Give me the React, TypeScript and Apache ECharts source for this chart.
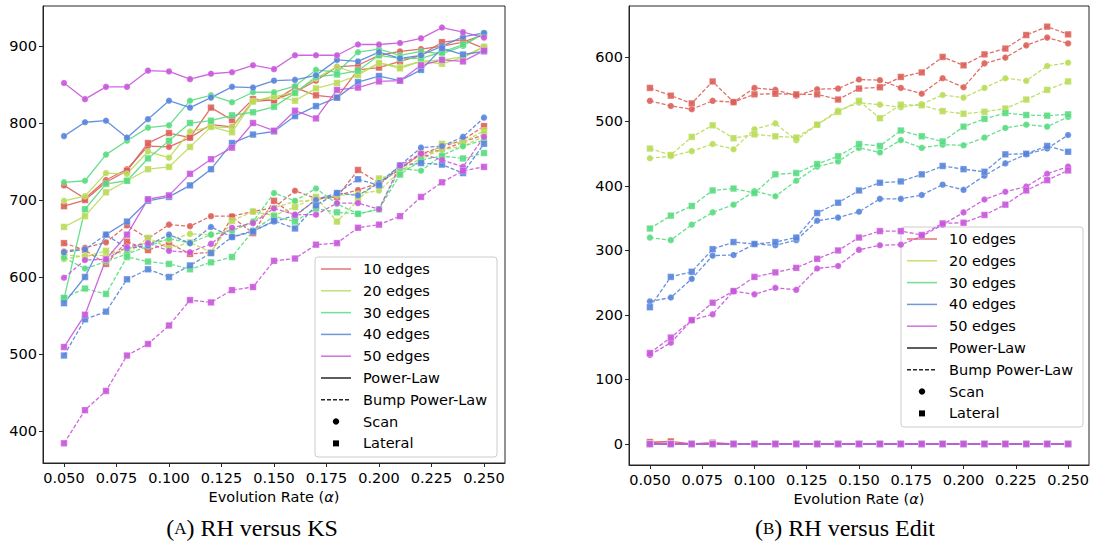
import React, { useEffect, useRef } from "react";
import * as echarts from "echarts";

// Evolution rates on the x axis
const alphas = [0.05, 0.06, 0.07, 0.08, 0.09, 0.1, 0.11, 0.12, 0.13, 0.14, 0.15, 0.16, 0.17, 0.18, 0.19, 0.2, 0.21, 0.22, 0.23, 0.24, 0.25];
const alphaTicks = [0.05, 0.075, 0.1, 0.125, 0.15, 0.175, 0.2, 0.225, 0.25];
const ksTicks = [400, 500, 600, 700, 800, 900];
const editTicks = [0, 100, 200, 300, 400, 500, 600];

const edgeLabels = ["10 edges", "20 edges", "30 edges", "40 edges", "50 edges"];
const distLabels = ["Power-Law", "Bump Power-Law"];
const methodLabels = ["Scan", "Lateral"];
const captions = ["A) RH versus KS", "B) RH versus Edit"];

// RH versus KS — one row per edge count (10..50)
const ksPowerLawScan = [
  [719, 702, 726, 740, 770, 769, 781, 798, 795, 828, 830, 840, 855, 873, 875, 888, 893, 896, 900, 905, 915],
  [699, 705, 735, 734, 763, 755, 789, 795, 794, 828, 834, 840, 858, 873, 864, 878, 873, 880, 882, 886, 899],
  [723, 725, 759, 777, 794, 797, 829, 836, 827, 840, 840, 848, 869, 866, 892, 896, 888, 893, 890, 900, 917],
  [783, 801, 803, 781, 805, 829, 820, 833, 847, 846, 855, 856, 862, 882, 880, 892, 884, 888, 900, 912, 917],
  [852, 831, 847, 847, 868, 867, 857, 864, 866, 875, 870, 888, 888, 888, 902, 902, 904, 910, 924, 918, 911],
];
const ksPowerLawLateral = [
  [692, 700, 723, 738, 774, 787, 781, 820, 804, 831, 829, 846, 836, 833, 869, 872, 880, 888, 905, 908, 897],
  [665, 679, 710, 725, 740, 743, 769, 795, 788, 828, 835, 829, 845, 852, 862, 878, 871, 880, 877, 885, 899],
  [572, 688, 721, 725, 754, 777, 800, 803, 810, 814, 821, 839, 860, 863, 868, 888, 884, 884, 892, 902, 916],
  [566, 600, 655, 672, 699, 704, 719, 740, 774, 785, 789, 809, 822, 833, 853, 861, 855, 869, 897, 889, 893],
  [509, 551, 623, 655, 701, 706, 734, 753, 768, 800, 790, 816, 806, 843, 846, 854, 855, 875, 882, 880, 894],
];
const ksBumpScan = [
  [633, 638, 645, 667, 650, 668, 666, 679, 679, 685, 690, 712, 702, 706, 713, 722, 740, 760, 765, 775, 785],
  [623, 628, 628, 636, 645, 648, 656, 655, 660, 672, 690, 698, 700, 706, 708, 712, 737, 755, 765, 770, 783],
  [625, 611, 620, 630, 640, 650, 644, 655, 660, 672, 709, 699, 715, 695, 682, 688, 741, 738, 758, 770, 778],
  [632, 636, 655, 637, 641, 655, 644, 665, 652, 660, 672, 680, 700, 709, 706, 722, 745, 768, 770, 782, 807],
  [599, 622, 623, 639, 644, 634, 632, 643, 664, 670, 689, 681, 681, 696, 696, 688, 745, 760, 752, 743, 782],
];
const ksBumpLateral = [
  [644, 635, 617, 646, 635, 644, 630, 632, 678, 657, 699, 679, 701, 704, 739, 722, 741, 760, 769, 778, 796],
  [629, 626, 634, 630, 651, 637, 645, 632, 673, 685, 680, 691, 704, 672, 700, 728, 735, 750, 773, 775, 790],
  [573, 585, 578, 626, 620, 617, 610, 619, 626, 660, 679, 672, 689, 684, 682, 688, 733, 752, 757, 754, 761],
  [498, 545, 555, 597, 610, 600, 615, 631, 652, 659, 673, 663, 693, 709, 727, 719, 745, 748, 746, 735, 773],
  [384, 427, 452, 498, 513, 537, 570, 567, 583, 587, 621, 624, 642, 644, 664, 668, 679, 704, 723, 738, 743],
];

// RH versus Edit — one row per edge count (10..50)
const editPowerLawScan = [
  [2, 1, 0, 1, 0, 0, 0, 0, 0, 0, 0, 0, 0, 0, 0, 0, 0, 0, 0, 0, 0],
  [0, 0, 0, 0, 0, 0, 0, 0, 0, 0, 0, 0, 0, 0, 0, 0, 0, 0, 0, 0, 0],
  [0, 0, 0, 0, 0, 0, 0, 0, 0, 0, 0, 0, 0, 0, 0, 0, 0, 0, 0, 0, 0],
  [0, 0, 0, 0, 0, 0, 0, 0, 0, 0, 0, 0, 0, 0, 0, 0, 0, 0, 0, 0, 0],
  [0, 0, 0, 0, 0, 0, 0, 0, 0, 0, 0, 0, 0, 0, 0, 0, 0, 0, 0, 0, 0],
];
const editPowerLawLateral = [
  [3, 4, 0, 2, 0, 0, 0, 0, 0, 0, 0, 0, 0, 0, 0, 0, 0, 0, 0, 0, 0],
  [0, 0, 0, 0, 0, 0, 0, 0, 0, 0, 0, 0, 0, 0, 0, 0, 0, 0, 0, 0, 0],
  [0, 0, 0, 0, 0, 0, 0, 0, 0, 0, 0, 0, 0, 0, 0, 0, 0, 0, 0, 0, 0],
  [0, 0, 0, 0, 0, 0, 0, 0, 0, 0, 0, 0, 0, 0, 0, 0, 0, 0, 0, 0, 0],
  [0, 0, 0, 0, 0, 0, 0, 0, 0, 0, 0, 0, 0, 0, 0, 0, 0, 0, 0, 0, 0],
];
const editBumpScan = [
  [532, 524, 519, 532, 530, 552, 549, 540, 550, 551, 565, 564, 552, 543, 567, 553, 590, 599, 618, 630, 621],
  [443, 446, 454, 465, 457, 488, 497, 471, 495, 517, 529, 526, 522, 527, 541, 537, 552, 567, 563, 586, 591],
  [320, 316, 340, 359, 371, 392, 384, 408, 430, 438, 459, 452, 471, 459, 464, 463, 475, 490, 495, 492, 507],
  [221, 227, 256, 292, 293, 310, 308, 316, 346, 351, 360, 380, 380, 386, 402, 394, 416, 435, 449, 458, 479],
  [138, 157, 192, 201, 237, 232, 242, 239, 272, 276, 301, 308, 309, 322, 340, 359, 379, 391, 399, 419, 430],
];
const editBumpLateral = [
  [552, 540, 528, 562, 530, 542, 543, 542, 542, 534, 551, 553, 569, 576, 600, 587, 604, 613, 634, 647, 635],
  [458, 448, 476, 494, 474, 480, 477, 475, 495, 515, 532, 505, 526, 525, 516, 512, 515, 520, 534, 549, 562],
  [334, 354, 369, 393, 396, 389, 418, 420, 434, 446, 465, 462, 486, 477, 469, 492, 504, 513, 510, 509, 511],
  [212, 259, 267, 302, 313, 310, 313, 320, 358, 374, 393, 405, 407, 418, 431, 426, 422, 449, 450, 462, 453],
  [141, 165, 192, 219, 237, 259, 266, 273, 287, 300, 320, 330, 330, 324, 342, 343, 355, 371, 393, 409, 424],
];

const palette = ["#db5f57", "#b9db57", "#57db80", "#5784db", "#c957db"];
const SANS = "DejaVu Sans";
const SERIF = "Liberation Serif";
const DASH = [4, 2];
const FRAME = "#262626";

type Panel = {
  name: string;
  tables: number[][][]; // [powerLawScan, powerLawLateral, bumpScan, bumpLateral]
};

const panels: Panel[] = [
  { name: "RH versus KS", tables: [ksPowerLawScan, ksPowerLawLateral, ksBumpScan, ksBumpLateral] },
  { name: "RH versus Edit", tables: [editPowerLawScan, editPowerLawLateral, editBumpScan, editBumpLateral] },
];

function buildSeries() {
  const out: any[] = [];
  panels.forEach((panel, p) => {
    edgeLabels.forEach((edge, e) => {
      panel.tables.forEach((table, t) => {
        const dist = t < 2 ? 0 : 1;
        const method = t % 2;
        out.push({
          type: "line",
          name: `${panel.name} · ${edge} · ${distLabels[dist]} · ${methodLabels[method]}`,
          xAxisIndex: p,
          yAxisIndex: p,
          data: alphas.map((a, j) => [a, table[e][j]]),
          symbol: method === 0 ? "circle" : "rect",
          symbolSize: 6.5,
          showSymbol: true,
          silent: true,
          lineStyle: { color: palette[e], width: 1.3, type: dist === 0 ? "solid" : DASH, opacity: 0.9 },
          itemStyle: { color: palette[e], opacity: 0.9, borderColor: "rgba(255,255,255,0.35)", borderWidth: 0.8 },
          emphasis: { disabled: true },
          z: 2,
        });
      });
    });
  });
  return out;
}

function legendGroup(bx: number, by: number) {
  const step = 21.8;
  const children: any[] = [
    {
      type: "rect",
      shape: { x: 0, y: 0, width: 182, height: 200, r: 3 },
      style: { fill: "rgba(255,255,255,0.8)", stroke: "#cccccc", lineWidth: 1 },
    },
  ];
  const rows: { label: string; kind: string; color: string; dash?: boolean }[] = [
    ...edgeLabels.map((label, i) => ({ label, kind: "line", color: palette[i] })),
    { label: distLabels[0], kind: "line", color: "#000000" },
    { label: distLabels[1], kind: "line", color: "#000000", dash: true },
    { label: methodLabels[0], kind: "circle", color: "#000000" },
    { label: methodLabels[1], kind: "square", color: "#000000" },
  ];
  rows.forEach((row, k) => {
    const cy = 12 + k * step;
    if (row.kind === "line") {
      children.push({
        type: "line",
        shape: { x1: 6, y1: cy, x2: 36, y2: cy },
        style: { stroke: row.color, lineWidth: 1.5, lineDash: row.dash ? DASH : null, opacity: 0.85 },
      });
    } else if (row.kind === "circle") {
      children.push({ type: "circle", shape: { cx: 21, cy, r: 3.2 }, style: { fill: row.color } });
    } else {
      children.push({ type: "rect", shape: { x: 18, y: cy - 3, width: 6, height: 6 }, style: { fill: row.color } });
    }
    children.push({
      type: "text",
      x: 48,
      y: cy,
      style: { text: row.label, fontFamily: SANS, fontSize: 14.5, fill: "#000", verticalAlign: "middle", align: "left" },
    });
  });
  return { type: "group", x: bx, y: by, z: 100, children };
}

function caption(cx: number, text: string) {
  const letter = text.charAt(0);
  const rest = text.slice(1);
  return {
    type: "text",
    x: cx,
    y: 528,
    z: 100,
    style: {
      text: `{p|(}{s|${letter}}{p|${rest}}`,
      align: "center",
      verticalAlign: "middle",
      rich: {
        p: { fontFamily: SERIF, fontSize: 24, fill: "#000" },
        s: { fontFamily: SERIF, fontSize: 17, fill: "#000" },
      },
    },
  };
}

function xAxisFor(gridIndex: number) {
  return {
    type: "value",
    gridIndex,
    min: 0.04,
    max: 0.26,
    name: "Evolution Rate ({a|α})",
    nameLocation: "middle",
    nameGap: 22,
    nameTextStyle: {
      fontFamily: SANS,
      fontSize: 14.5,
      color: "#000",
      rich: { a: { fontFamily: SANS, fontSize: 14.5, fontStyle: "italic", color: "#000" } },
    },
    axisLine: { show: true, onZero: false, lineStyle: { color: FRAME, width: 1 } },
    axisTick: { show: true, length: 4, lineStyle: { color: FRAME, width: 1 }, customValues: alphaTicks },
    axisLabel: {
      customValues: alphaTicks,
      formatter: (v: number) => v.toFixed(3),
      margin: 7,
      fontFamily: SANS,
      fontSize: 14.5,
      color: "#000",
    },
    splitLine: { show: false },
  };
}

function yAxisFor(gridIndex: number, min: number, max: number, ticks: number[]) {
  return {
    type: "value",
    gridIndex,
    min,
    max,
    axisLine: { show: true, onZero: false, lineStyle: { color: FRAME, width: 1 } },
    axisTick: { show: true, length: 4, lineStyle: { color: FRAME, width: 1 }, customValues: ticks },
    axisLabel: {
      customValues: ticks,
      formatter: (v: number) => String(v),
      margin: 6,
      fontFamily: SANS,
      fontSize: 14.5,
      color: "#000",
    },
    splitLine: { show: false },
  };
}

export default function App() {
  const ref = useRef<HTMLDivElement>(null);

  useEffect(() => {
    if (!ref.current) return;
    const chart = echarts.init(ref.current, null, { renderer: "svg" });
    chart.setOption({
      animation: false,
      backgroundColor: "#ffffff",
      grid: [
        { left: 43, top: 6, width: 462, height: 457, show: true, borderColor: FRAME, borderWidth: 1, backgroundColor: "transparent" },
        { left: 629, top: 6, width: 460, height: 459, show: true, borderColor: FRAME, borderWidth: 1, backgroundColor: "transparent" },
      ],
      xAxis: [xAxisFor(0), xAxisFor(1)],
      yAxis: [yAxisFor(0, 358.4, 952, ksTicks), yAxisFor(1, -32.6, 679, editTicks)],
      series: buildSeries(),
      graphic: [
        legendGroup(315, 257),
        legendGroup(901, 227),
        caption(252, captions[0]),
        caption(845, captions[1]),
      ],
    });
    return () => chart.dispose();
  }, []);

  return (
    <div
      ref={ref}
      style={{ position: "fixed", left: 0, top: 0, width: 1094, height: 544, background: "#fff" }}
    />
  );
}
